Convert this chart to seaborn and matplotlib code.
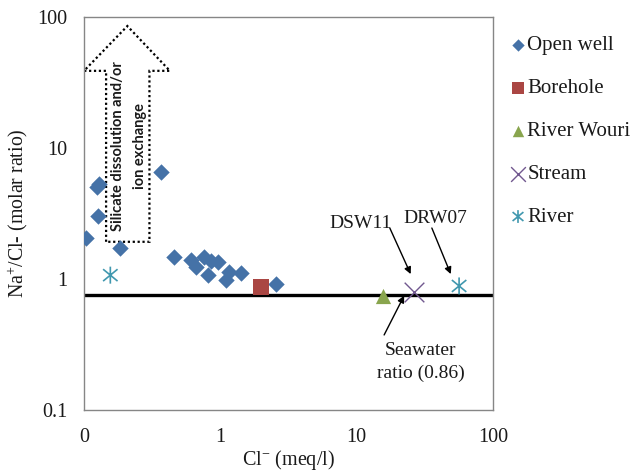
import numpy as np
import pandas as pd
import matplotlib
matplotlib.use("Agg")
import matplotlib.pyplot as plt
import seaborn as sns
from matplotlib.path import Path
from matplotlib.patches import Polygon
from matplotlib.ticker import FixedLocator, FixedFormatter, NullLocator

# ---------------- data ----------------
open_well_cl = [0.103, 0.124, 0.128, 0.126, 0.184, 0.365, 0.46, 0.61, 0.76, 0.66,
                0.855, 0.955, 0.81, 1.16, 1.10, 1.42, 2.58]
open_well_ratio = [2.07, 5.05, 5.35, 3.03, 1.72, 6.6, 1.46, 1.40, 1.48, 1.23,
                   1.38, 1.36, 1.07, 1.14, 0.98, 1.12, 0.92]
borehole_cl = [1.99]
borehole_ratio = [0.865]
wouri_cl = [15.7]
wouri_ratio = [0.74]
stream_cl = [26.4]
stream_ratio = [0.79]
river_cl = [0.156, 56.4]
river_ratio = [1.07, 0.885]

seawater_ratio = 0.76

group_names = ["Open well", "Borehole", "River Wouri", "Stream", "River"]
x_ticks = [0.1, 1, 10, 100]
x_tick_labels = ["0", "1", "10", "100"]
y_ticks = [0.1, 1, 10, 100]
y_tick_labels = ["0.1", "1", "10", "100"]

frames = []
for name, xs, ys in zip(group_names,
                        [open_well_cl, borehole_cl, wouri_cl, stream_cl, river_cl],
                        [open_well_ratio, borehole_ratio, wouri_ratio, stream_ratio, river_ratio]):
    frames.append(pd.DataFrame({"cl": xs, "ratio": ys, "type": name}))
df = pd.concat(frames, ignore_index=True)

# ---------------- style ----------------
sns.set_theme(style="white")
plt.rcParams["font.family"] = ["Liberation Serif", "DejaVu Serif"]
plt.rcParams["mathtext.fontset"] = "custom"
plt.rcParams["mathtext.rm"] = "Liberation Serif"
plt.rcParams["mathtext.it"] = "Liberation Serif"

W, H = 634, 474
fig = plt.figure(figsize=(W / 100, H / 100), dpi=100)
ax = fig.add_axes([84 / W, (H - 410) / H, 409 / W, 393 / H])

asterisk = Path([(0, -1), (0, 1), (-0.85, -0.7), (0.85, 0.7), (-0.85, 0.7), (0.85, -0.7)],
                [Path.MOVETO, Path.LINETO, Path.MOVETO, Path.LINETO, Path.MOVETO, Path.LINETO])

styles = {
    "Open well": dict(marker="D", s=70, color="#4572A7", edgecolor="#4572A7", linewidth=0),
    "Borehole": dict(marker="s", s=125, color="#AA4643", edgecolor="#AA4643", linewidth=0),
    "River Wouri": dict(marker="^", s=120, color="#89A54E", edgecolor="#89A54E", linewidth=0),
    "Stream": dict(marker="x", s=200, color="#71588F", linewidth=1.0),
    "River": dict(marker=asterisk, s=150, color="#4198AF", edgecolor="#4198AF",
                  facecolor="none", linewidth=1.2),
}

for name in group_names:
    sub = df[df["type"] == name]
    sns.scatterplot(data=sub, x="cl", y="ratio", ax=ax, label=name, zorder=3, **styles[name])

ax.axhline(seawater_ratio, color="black", lw=2.4, zorder=2)

ax.set_xscale("log")
ax.set_yscale("log")
ax.set_xlim(0.1, 100)
ax.set_ylim(0.1, 100)
ax.xaxis.set_major_locator(FixedLocator(x_ticks))
ax.xaxis.set_major_formatter(FixedFormatter(x_tick_labels))
ax.yaxis.set_major_locator(FixedLocator(y_ticks))
ax.yaxis.set_major_formatter(FixedFormatter(y_tick_labels))
ax.xaxis.set_minor_locator(NullLocator())
ax.yaxis.set_minor_locator(NullLocator())
ax.tick_params(axis="both", which="major", direction="out", length=5, width=1,
               color="#868686", labelsize=14.5, labelcolor="#1a1a1a")
ax.tick_params(axis="x", pad=8)
ax.tick_params(axis="y", pad=7)
for sp in ax.spines.values():
    sp.set_visible(True)
    sp.set_color("#868686")
    sp.set_linewidth(1)
ax.grid(False)

ax.set_xlabel("Cl$^{-}$ (meq/l)", fontsize=14.5, color="#1a1a1a", labelpad=1)
ax.set_ylabel("Na$^{+}$/Cl- (molar ratio)", fontsize=14.3, color="#1a1a1a", labelpad=5)

# block arrow (dotted outline) in axes fraction
arrow_pts = [(0.054, 0.428), (0.054, 0.863), (0.0, 0.863), (0.106, 0.977),
             (0.210, 0.863), (0.160, 0.863), (0.160, 0.428)]
ax.add_patch(Polygon(arrow_pts, closed=True, transform=ax.transAxes, fill=False,
                     edgecolor="black", linestyle=(0, (1, 1.2)), linewidth=1.6, zorder=1))
ax.text(0.110, 0.672, "Silicate dissolution and/or\nion exchange", transform=ax.transAxes,
        rotation=90, ha="center", va="center", multialignment="center", fontsize=10.5,
        fontweight="bold", family=["Lato", "DejaVu Sans"], linespacing=1.65, color="#1a1a1a")

# annotations
arrowp = dict(arrowstyle="-|>", color="black", lw=1, mutation_scale=10, shrinkA=0, shrinkB=0)
ax.annotate("", xy=(24.9, 1.09), xytext=(17.5, 2.45), arrowprops=arrowp)
ax.text(10.7, 2.63, "DSW11", ha="center", va="center", fontsize=14, color="#1a1a1a")
ax.annotate("", xy=(49, 1.09), xytext=(35.6, 2.45), arrowprops=arrowp)
ax.text(38.0, 2.92, "DRW07", ha="center", va="center", fontsize=14, color="#1a1a1a")
ax.annotate("", xy=(22.3, 0.746), xytext=(15.9, 0.374), arrowprops=arrowp)
ax.text(29.5, 0.232, "Seawater\nratio (0.86)", ha="center", va="center", fontsize=14,
        color="#1a1a1a", linespacing=1.45)

ax.legend(loc="upper left", bbox_to_anchor=(1.0, 1.0), frameon=False,
          fontsize=15, labelspacing=1.12, handlelength=0.6, handletextpad=0.15,
          markerscale=0.75, borderaxespad=0.5, labelcolor="#1a1a1a")

fig.savefig("out.png", dpi=100)
